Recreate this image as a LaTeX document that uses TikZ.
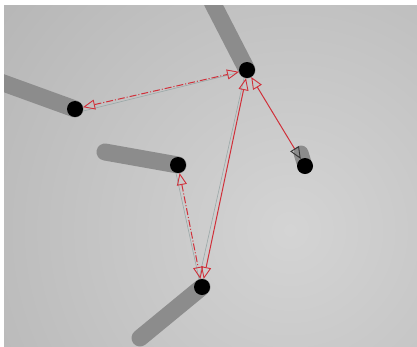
\documentclass[tikz,border=0pt]{standalone}
\usetikzlibrary{arrows.meta}
\definecolor{bgin}{HTML}{D4D4D4}
\definecolor{bgout}{HTML}{B2B2B2}
\definecolor{shad}{HTML}{8C8C8C}
\definecolor{lnk}{HTML}{D0303A}
\definecolor{ghost}{HTML}{9AA8A8}
\tikzset{
  ball/.style={circle, fill=black, minimum size=16pt, inner sep=0pt},
  shadowarm/.style={line width=17pt, line cap=round, draw=shad},
  tri/.tip={Triangle[open, length=12pt, width=10pt, line width=0.9pt]},
  darktri/.tip={Triangle[open, length=12pt, width=10pt, line width=0.9pt, color=black!80]},
  redlink/.style={draw=lnk, line width=1pt},
  ghostlink/.style={draw=ghost, line width=0.6pt},
}
\begin{document}
\begin{tikzpicture}[x=1pt,y=-1pt]
\useasboundingbox (0,0) rectangle (417,346);
\fill[white] (0,0) rectangle (417,346);
\begin{scope}
\clip (4,5) rectangle (417,346);
\fill[bgout] (4,5) rectangle (417,346);
\shade[inner color=bgin, outer color=bgout] (290,230) circle (420);
% shadows
\draw[shadowarm] (247,70) -- (212,2);
\draw[shadowarm] (75,109) -- (-5,80);
\draw[shadowarm] (178,165) -- (105,152);
\draw[shadowarm, line width=15pt] (305,166) -- (301,153);
\draw[shadowarm] (202,287) -- (140,338);
\end{scope}
% nodes
\node[ball] (A) at (247,70) {};
\node[ball] (B) at (75,109) {};
\node[ball] (C) at (178,165) {};
\node[ball] (D) at (305,166) {};
\node[ball] (E) at (202,287) {};
% ghost lines
\draw[ghostlink] ([yshift=-2pt]B.east) -- ([xshift=-2pt,yshift=-3pt]A.west);
\draw[ghostlink] ([xshift=-2pt]C.south) -- ([xshift=-3pt]E.north);
\draw[ghostlink] ([xshift=-3pt]E.north) -- ([xshift=-3pt]A.south);
% links
\draw[redlink, dash pattern=on 7pt off 2pt on 1pt off 2pt, tri-tri] (B) -- (A);
\draw[redlink, dash pattern=on 7pt off 2pt on 1pt off 2pt, tri-tri] (C) -- (E);
\draw[redlink, tri-tri] ([xshift=-1pt]A.south) -- (E);
\draw[redlink, tri-darktri] (A) -- (D);
\end{tikzpicture}
\end{document}
